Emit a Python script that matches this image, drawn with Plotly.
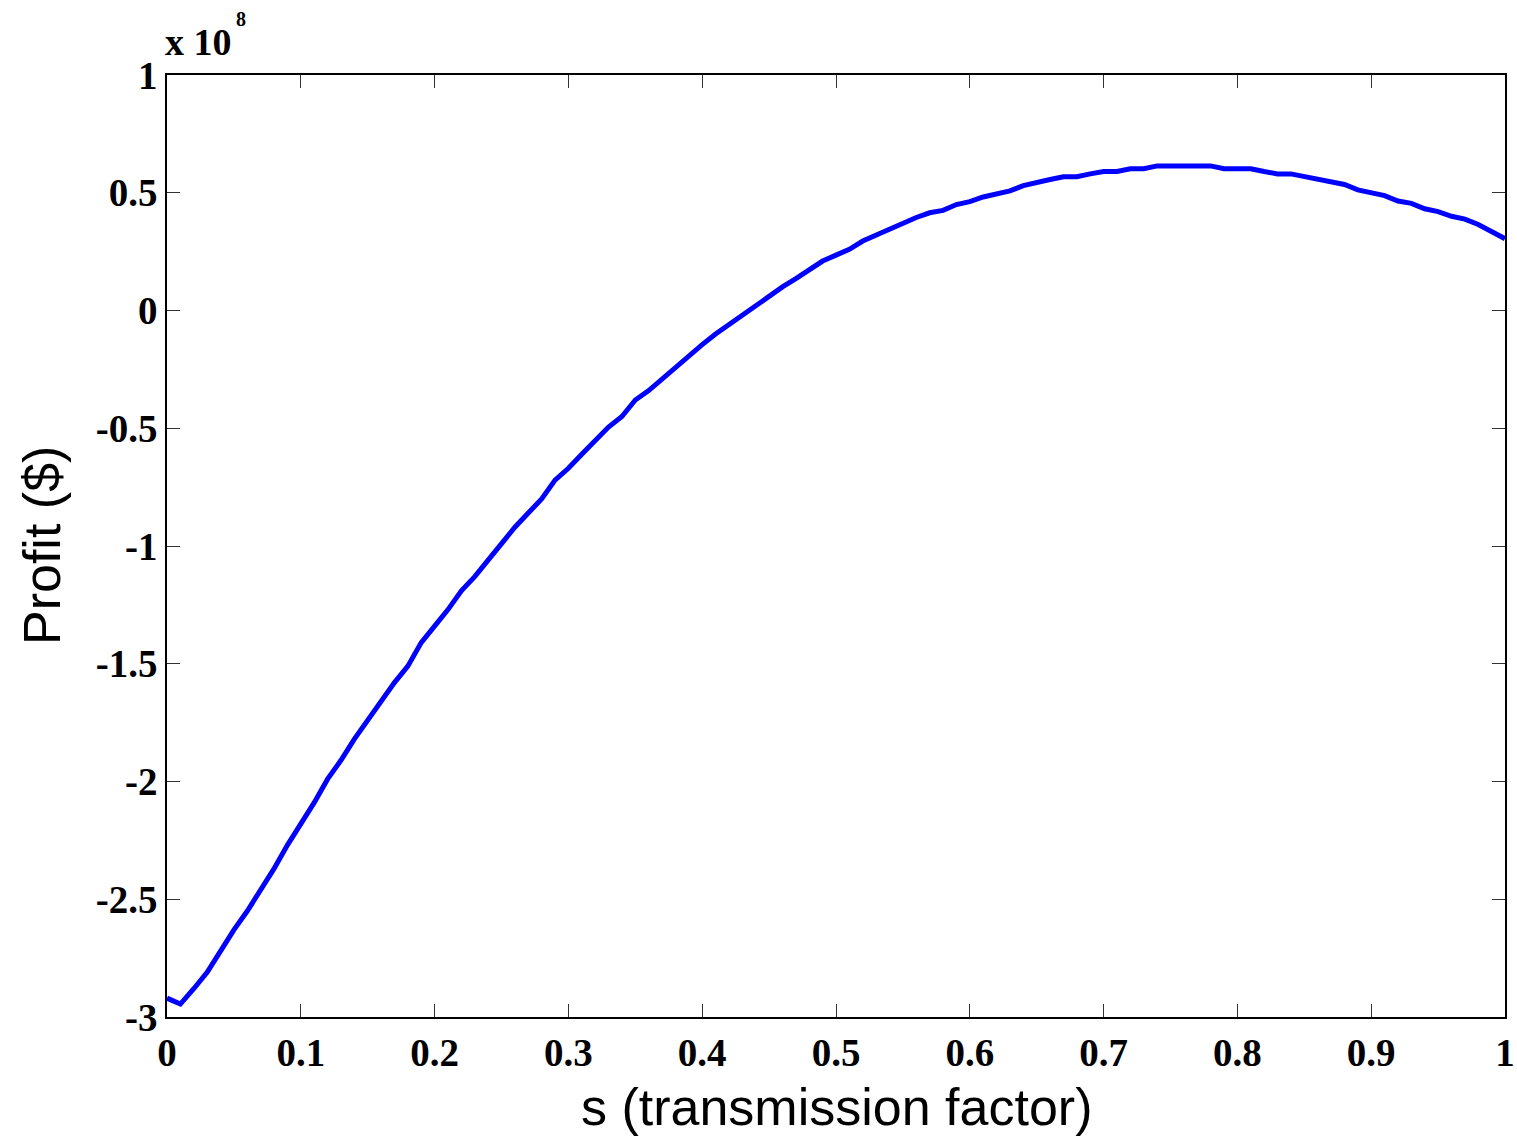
import plotly.graph_objects as go

# transmission factor s
s = [round(i * 0.01, 2) for i in range(101)]
# profit in units of 1e8 $
profit = [
    -2.92, -2.945, -2.88, -2.81, -2.72, -2.63, -2.55, -2.46, -2.37, -2.27,
    -2.18, -2.09, -1.99, -1.91, -1.82, -1.74, -1.66, -1.58, -1.51, -1.41,
    -1.34, -1.27, -1.19, -1.13, -1.06, -0.99, -0.92, -0.86, -0.80, -0.72,
    -0.67, -0.61, -0.55, -0.495, -0.45, -0.38, -0.34, -0.29, -0.245, -0.19,
    -0.145, -0.10, -0.06, -0.015, 0.02, 0.065, 0.10, 0.135, 0.17, 0.21,
    0.235, 0.26, 0.295, 0.32, 0.345, 0.372, 0.395, 0.415, 0.425, 0.45,
    0.462, 0.482, 0.496, 0.508, 0.53, 0.545, 0.556, 0.568, 0.568, 0.58,
    0.59, 0.59, 0.602, 0.602, 0.614, 0.614, 0.614, 0.614, 0.614, 0.602,
    0.602, 0.602, 0.59, 0.58, 0.58, 0.568, 0.556, 0.545, 0.535, 0.512,
    0.50, 0.488, 0.465, 0.455, 0.432, 0.42, 0.40, 0.388, 0.365, 0.335,
    0.305,
]

x_tickvals = [0, 0.1, 0.2, 0.3, 0.4, 0.5, 0.6, 0.7, 0.8, 0.9, 1]
x_ticktext = ["0", "0.1", "0.2", "0.3", "0.4", "0.5", "0.6", "0.7", "0.8", "0.9", "1"]
y_tickvals = [1, 0.5, 0, -0.5, -1, -1.5, -2, -2.5, -3]
y_ticktext = ["1", "0.5", "0", "-0.5", "-1", "-1.5", "-2", "-2.5", "-3"]

tickfont = dict(family="Liberation Serif", size=39, color="black", weight="bold")
titlefont = dict(family="Liberation Sans", size=52, color="black")

fig = go.Figure()
fig.add_trace(go.Scatter(x=s, y=profit, mode="lines",
                         line=dict(color="#0000ff", width=5),
                         showlegend=False))

fig.update_layout(
    width=1517, height=1137,
    margin=dict(l=167, r=12, t=75, b=120),
    paper_bgcolor="white", plot_bgcolor="white",
    font=dict(family="Liberation Serif"),
)
axis_common = dict(
    showgrid=False, zeroline=False, automargin=False,
    showline=True, linecolor="black", linewidth=1.5, mirror="ticks",
    ticks="inside", ticklen=13, tickcolor="#333333", tickwidth=1.2,
    tickfont=tickfont,
)
fig.update_xaxes(range=[0, 1], tickvals=x_tickvals, ticktext=x_ticktext, **axis_common)
fig.update_yaxes(range=[-3, 1], tickvals=y_tickvals, ticktext=y_ticktext, **axis_common)

# axis titles
fig.add_annotation(
    text="s (transmission factor)", xref="paper", yref="paper",
    x=0.5, y=0, yshift=-90, xanchor="center", yanchor="middle",
    showarrow=False, font=titlefont,
)
fig.add_annotation(
    text="Profit ($)", xref="paper", yref="paper",
    x=0, y=0.5, xshift=-125, xanchor="center", yanchor="middle",
    textangle=-90, showarrow=False, font=titlefont,
)
# exponent label
fig.add_annotation(
    text="<b>x 10</b>", xref="paper", yref="paper",
    x=0, y=1, xanchor="left", yanchor="middle", xshift=-4, yshift=33,
    showarrow=False, font=dict(family="Liberation Serif", size=38, color="black"),
)
fig.add_annotation(
    text="<b>8</b>", xref="paper", yref="paper",
    x=0, y=1, xanchor="left", yanchor="middle", xshift=67, yshift=56,
    showarrow=False, font=dict(family="Liberation Serif", size=20, color="black"),
)

fig.write_html("out.html")
